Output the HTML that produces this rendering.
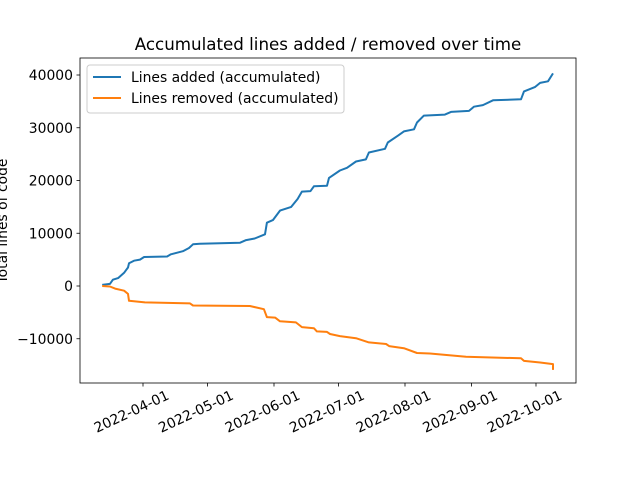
<!DOCTYPE html>
<html><head><meta charset="utf-8"><style>
body{margin:0;background:#fff}
svg{font-family:"DejaVu Sans","Liberation Sans",sans-serif}
</style></head><body>
<svg id="chart" width="640" height="480" xmlns="http://www.w3.org/2000/svg">
<rect width="640" height="480" fill="#fff"/>
<text x="328" y="50" font-size="16.7" text-anchor="middle">Accumulated lines added / removed over time</text>
<text transform="translate(7,221) rotate(-90)" font-size="13.9" text-anchor="middle">Total lines of code</text>
<g id="ticks"></g>
<g id="lines"></g>
<rect x="80" y="58" width="496" height="325" fill="none" stroke="#000" stroke-width="0.8"/>
<g>
<rect x="87" y="65" width="257" height="48" rx="3" fill="#fff" fill-opacity="0.8" stroke="#ccc"/>
<line x1="93" y1="77" x2="121" y2="77" stroke="#1f77b4" stroke-width="2"/>
<text x="131" y="82" font-size="13.9">Lines added (accumulated)</text>
<line x1="93" y1="98" x2="121" y2="98" stroke="#ff7f0e" stroke-width="2"/>
<text x="131" y="103" font-size="13.9">Lines removed (accumulated)</text>
</g>
</svg>
<script>
// days relative to 2022-04-01
const addedDays=[-19,-15.4,-14,-11.6,-8.8,-7,-6.5,-4.2,-1.4,0.5,11.2,13,18.6,21.4,23.3,26.5,45.2,48,52,56.8,57.7,60.5,63.8,69,72,74,78,79.6,85.7,86.6,91.7,95,99.2,103.8,105.2,112.7,114,118.7,121.5,126.2,127.6,130.8,140.6,143.4,151.8,154.1,158.3,163,176,177.4,182.5,184.9,188.6,190.9];
const addedValues=[200,400,1200,1500,2500,3500,4300,4800,5000,5500,5600,6000,6600,7200,7900,8000,8200,8700,9000,9800,12000,12500,14300,15000,16500,17900,18000,18900,19000,20500,21900,22400,23600,24000,25300,26000,27200,28500,29300,29700,31000,32300,32500,33000,33200,34000,34300,35200,35400,36900,37700,38500,38800,40300];
const removedDays=[-19,-15.4,-13,-8.8,-7,-6.5,0.9,21.9,23.3,49.8,56.3,57.7,61.5,63.8,71.2,74,79.6,81,85.7,87.1,91.7,99.2,105.2,113.2,114.6,121.5,127.6,133.6,150.4,176,177.4,184.9,190.9,190.9];
const removedValues=[0,-100,-500,-900,-1500,-2800,-3100,-3300,-3700,-3800,-4400,-5900,-6000,-6700,-6900,-7800,-8000,-8600,-8700,-9100,-9500,-9900,-10700,-11000,-11400,-11800,-12700,-12800,-13400,-13700,-14200,-14500,-14800,-15900];
const yTicks=[-10000,0,10000,20000,30000,40000];
const xTickLabels=["2022-04-01","2022-05-01","2022-06-01","2022-07-01","2022-08-01","2022-09-01","2022-10-01"];
const xTickDays=[0,30,61,91,122,153,183];
const NS="http://www.w3.org/2000/svg";
const X=d=>143+d*2.1475;
const Y=v=>286-v*0.005275;
const tg=document.getElementById('ticks');
function mk(tag,attrs,parent){const e=document.createElementNS(NS,tag);for(const k in attrs)e.setAttribute(k,attrs[k]);parent.appendChild(e);return e;}
yTicks.forEach(v=>{
 const y=Y(v);
 const l=mk('line',{x1:76.5,x2:80,y1:y,y2:y,stroke:'#000','stroke-width':0.8},tg);
 
 
 const t=mk('text',{x:73,y:y+5,'font-size':13.9,'text-anchor':'end'},tg);
 
 
 t.textContent=v<0?'\u2212'+Math.abs(v):String(v);
});
xTickDays.forEach((d,i)=>{
 const x=X(d);
 const l=mk('line',{x1:x,x2:x,y1:383,y2:386.5,stroke:'#000','stroke-width':0.8},tg);
 
 
 const t=mk('text',{transform:`translate(${x+23},${390}) rotate(-25)`,'font-size':13.9,'text-anchor':'end','dominant-baseline':'hanging'},tg);
 
 
 t.textContent=xTickLabels[i];
});
const lg=document.getElementById('lines');
function path(days,vals,color,name){
 const d=days.map((t,i)=>(i?'L':'M')+X(t).toFixed(1)+','+Y(vals[i]).toFixed(1)).join('');
 const p=mk('path',{d:d,fill:'none',stroke:color,'stroke-width':2,'stroke-linejoin':'round'},lg);
 
 
}
path(addedDays,addedValues,'#1f77b4','lines-added-series');
path(removedDays,removedValues,'#ff7f0e','lines-removed-series');
</script>
</body></html>
